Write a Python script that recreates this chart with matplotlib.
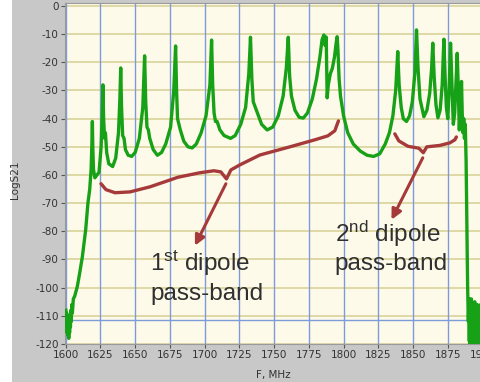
import matplotlib.pyplot as plt
from matplotlib.patches import Rectangle

plt.rcParams['axes.unicode_minus'] = False
plt.rcParams['mathtext.fontset'] = 'custom'
plt.rcParams['mathtext.rm'] = 'Liberation Sans'
plt.rcParams['mathtext.it'] = 'Liberation Sans'

# S21 trace, MHz / dB
freq_mhz = [
    1600.1, 1600.4, 1600.7, 1601.0, 1601.3, 1601.6, 1601.9, 1602.2, 1602.5, 1602.8,
    1603.1, 1603.4, 1603.7, 1604.0, 1604.4, 1604.8, 1605.5, 1606.5, 1608.4, 1610.0,
    1612.0, 1614.4, 1616.0, 1617.3,
    # 1st dipole pass-band
    1618.3, 1618.9, 1619.2, 1619.5, 1620.0, 1621.0, 1622.5, 1624.0,
    1625.5, 1626.3, 1626.8, 1627.3, 1628.0, 1628.6, 1629.5, 1631.0, 1633.8, 1636.0,
    1638.0, 1639.0, 1639.6, 1640.2, 1641.0, 1642.0, 1643.0, 1645.0, 1647.5, 1650.0,
    1653.0, 1655.5, 1656.8, 1657.6, 1658.5, 1659.5, 1660.5, 1663.0, 1666.0, 1669.0,
    1672.0, 1675.5, 1677.8, 1679.1, 1679.8, 1680.5, 1681.5, 1682.5, 1685.0, 1688.0,
    1691.0, 1694.0, 1697.5, 1701.0, 1703.8, 1705.0, 1705.8, 1706.8, 1707.8, 1709.0,
    1711.0, 1714.0, 1718.7, 1722.0, 1726.0, 1729.5, 1731.8, 1733.0, 1734.0, 1735.0,
    1736.5, 1738.0, 1741.0, 1745.0, 1749.0, 1753.0, 1756.5, 1758.8, 1760.2, 1761.2,
    1762.5, 1765.0, 1768.0, 1771.0, 1774.0, 1777.5, 1780.5, 1783.0, 1784.5, 1785.8,
    1786.7, 1787.5, 1788.2, 1789.0, 1790.5, 1792.0, 1793.5, 1794.7, 1795.4, 1796.0,
    1796.8, 1797.8, 1800.0, 1803.0, 1807.0, 1812.0, 1817.0, 1821.6, 1826.0, 1830.0,
    1833.0, 1835.5, 1837.5,
    # 2nd dipole pass-band
    1839.0, 1840.0, 1841.5, 1843.0, 1845.3, 1847.5, 1849.5, 1851.3, 1852.5, 1853.6,
    1855.0, 1857.8, 1860.0, 1862.0, 1863.4, 1864.2, 1865.2, 1866.5, 1867.9, 1869.5,
    1871.0, 1872.2, 1873.0, 1874.0, 1875.0, 1876.0, 1877.0, 1878.0, 1879.0, 1880.0,
    1881.0, 1881.8, 1882.6, 1883.3, 1884.0, 1884.9, 1885.4, 1886.0, 1886.5, 1887.0,
    1887.6, 1888.2, 1888.8, 1889.3, 1889.8,
    # noise floor above the band
    1890.2, 1890.5, 1890.8, 1891.1, 1891.4, 1891.7, 1892.0, 1892.3, 1892.6, 1892.9,
    1893.2, 1893.5, 1893.8, 1894.1, 1894.4, 1894.7, 1895.0, 1895.3, 1895.6, 1895.9,
    1896.2, 1896.5, 1896.8, 1897.1, 1897.4, 1897.7, 1898.0, 1898.3, 1898.6, 1898.9,
    1899.2, 1899.5, 1899.8,
]
s21_db = [
    -108, -114, -109, -116, -110, -117, -111, -118, -112, -116,
    -110, -114, -108, -112, -106, -109, -104, -103, -99.5, -95,
    -89, -79.4, -70, -65,
    -58, -48, -41, -50, -58, -61, -60, -59,
    -50, -38, -28, -40, -47, -45, -52, -56, -57, -54,
    -45, -33, -22, -36, -46, -47, -51, -53, -53.4, -52,
    -47, -36, -17.7, -34, -43, -44, -47, -51, -53, -52,
    -49, -43, -30, -14.2, -30, -40, -42, -44, -48, -50,
    -50.4, -49, -45, -39, -28, -12.1, -28, -38, -41, -41,
    -44, -46, -47, -46, -42, -36, -24, -11.1, -26, -34,
    -36, -38, -42, -44, -43, -39, -32, -22, -11.1, -25,
    -32, -37, -39.5, -39.8, -38, -33, -26, -18, -12, -10.3,
    -14, -11, -32.6, -28, -24, -22, -18, -13, -10.9, -16,
    -26, -32, -39, -45, -49, -51.5, -53, -53.4, -52.5, -49,
    -45, -39, -30,
    -16.2, -28, -36, -40, -41, -39, -34, -24, -8.5, -22,
    -33, -39.3, -37, -31, -22, -13.2, -25, -35, -39.7, -37,
    -28, -11.8, -24, -36, -40, -30, -13.2, -28, -42, -38,
    -26, -16.8, -30, -44, -36, -26.8, -38, -45, -40, -47,
    -42, -55, -80, -100, -112,
    -105, -119, -104, -120, -106, -118, -104, -121, -108, -119,
    -106, -120, -109, -118, -105, -121, -107, -119, -110, -120,
    -106, -118, -108, -121, -107, -119, -109, -120, -106, -118,
    -108, -120, -107,
]

x_ticks = list(range(1600, 1901, 25))
y_ticks = list(range(0, -121, -10))
cursor_db = -111.6

# curly braces and arrows
brace1_f = [1625.4, 1629.0, 1635.5, 1646.3, 1660.7, 1680.8, 1696.6, 1706.7, 1711.7,
            1715.7, 1718.9, 1725.4, 1739.8, 1761.4, 1779.4, 1788.7, 1793.7, 1796.3]
brace1_db = [-63.1, -65.2, -66.3, -66.0, -64.2, -60.8, -59.2, -58.5, -58.9,
             -61.4, -58.2, -56.4, -52.9, -50.0, -47.5, -46.1, -44.3, -40.8]
brace2_f = [1836.9, 1839.8, 1846.3, 1854.2, 1857.4, 1859.9, 1869.3, 1876.5, 1880.1, 1881.2]
brace2_db = [-45.4, -47.9, -49.8, -50.5, -52.1, -50.0, -49.5, -48.6, -47.5, -46.5]
arrow1 = ((1715.3, -63.1), (1693.0, -85.1))
arrow2 = ((1857.0, -53.9), (1834.5, -75.9))

green = '#17a117'
maroon = '#a63a3a'

fig = plt.figure(figsize=(4.81, 3.82), dpi=100, facecolor='#c8c8c8')
fig.patches.append(Rectangle((0, 0), 12 / 481, 1, transform=fig.transFigure,
                             facecolor='white', edgecolor='none', zorder=0))
ax = fig.add_axes([65 / 481, 38 / 382, 417.5 / 481, 341 / 382])
ax.set_facecolor('#fefae9')
ax.set_xlim(1599.5, 1900)
ax.set_ylim(-120, 1.06)

for y in y_ticks:
    ax.axhline(y, color='#d6cf95', lw=1.1, zorder=1)
for x in x_ticks:
    ax.axvline(x, color='#7d9bd9', lw=1.0, zorder=1)
ax.axhline(cursor_db, color='#7d9bd9', lw=1.0, zorder=1)

ax.plot(freq_mhz, s21_db, color=green, lw=2.4, solid_joinstyle='round', zorder=3)

ax.plot(brace1_f, brace1_db, color=maroon, lw=2.4, solid_capstyle='round',
        solid_joinstyle='round', zorder=4)
ax.plot(brace2_f, brace2_db, color=maroon, lw=2.4, solid_capstyle='round',
        solid_joinstyle='round', zorder=4)
for start, tip in (arrow1, arrow2):
    ax.annotate('', xy=tip, xytext=start, zorder=4,
                arrowprops=dict(arrowstyle='-|>,head_length=0.6,head_width=0.3',
                                color=maroon, lw=2.2, shrinkA=0, shrinkB=0))

txt = dict(fontsize=17.5, color='#303030', family='Liberation Sans', va='baseline', zorder=5)
ax.text(1660.7, -94.2, r'1$^{\mathrm{st}}$ dipole', **txt)
ax.text(1660.7, -104.3, 'pass-band', **txt)
ax.text(1793.7, -83.6, r'2$^{\mathrm{nd}}$ dipole', **txt)
ax.text(1793.7, -93.6, 'pass-band', **txt)

ax.set_xticks(x_ticks)
ax.set_yticks(y_ticks)
ax.tick_params(direction='out', length=3, width=0.8, color='#555555',
               labelsize=7.5, labelcolor='#333333', pad=1.5)
for s in ax.spines.values():
    s.set_color('#9a9a9a')
    s.set_linewidth(0.8)

fig.text(15 / 481, 1 - 180 / 382, 'LogS21', rotation=90, fontsize=7.5,
         color='#333333', ha='center', va='center')
fig.text(273 / 481, 1 - 375 / 382, 'F, MHz', fontsize=7.5,
         color='#333333', ha='center', va='center')

fig.savefig('out.png', dpi=100, facecolor=fig.get_facecolor())
